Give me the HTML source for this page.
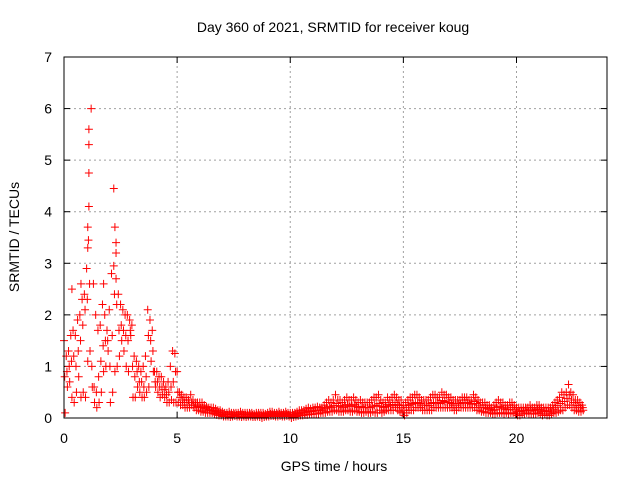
<!DOCTYPE html>
<html><head><meta charset="utf-8"><style>
body{margin:0;background:#fff}
svg{display:block;font-family:"Liberation Sans",sans-serif}
</style></head><body>
<svg id="chart" width="640" height="480">
<text x="333" y="32" font-size="14" text-anchor="middle">Day 360 of 2021, SRMTID for receiver koug</text>
<text x="334" y="471" font-size="14" text-anchor="middle">GPS time / hours</text>
<text transform="translate(19,237) rotate(-90)" font-size="14" text-anchor="middle">SRMTID / TECUs</text>
<g id="grid"></g><g id="axes"></g><g id="marks"></g>
<rect x="64" y="57" width="543" height="361" fill="none" stroke="#000" stroke-width="1"/>
</svg>
<script>
const xTicks=[0,5,10,15,20];
const yTicks=[0,1,2,3,4,5,6,7];
const tStart=0, tStep=0.1;
const hiVals=[1.5,1.2,1.3,1.6,1.7,1.6,1.9,2.0,2.3,2.4,
2.9,4.1,6.0,2.6,2.0,1.7,1.8,2.2,2.0,1.7,
2.1,2.8,2.95,2.7,2.4,2.2,2.1,2.0,2.0,1.9,
1.8,1.2,1.1,1.0,0.9,1.0,1.2,2.1,1.9,1.7,
0.9,0.9,0.8,0.8,0.7,0.6,0.7,1.0,1.3,1.25,
0.9,0.5,0.45,0.4,0.4,0.35,0.45,0.35,0.3,0.3,
.3,.3,.25,.22,.2,.2,.2,.18,.15,.15,
.12,.1,.1,.12,.1,.1,.1,.1,.12,.1,
.1,.1,.1,.1,.08,.1,.1,.1,.1,.08,
.1,.12,.12,.1,.1,.12,.1,.1,.12,.1,
.1,.1,.1,.12,.15,.15,.15,.18,.2,.18,
.2,.2,.22,.2,.2,.25,.3,.35,.3,.35,
.45,.35,.35,.3,.35,.4,.35,.35,.4,.35,
.3,.35,.3,.3,.3,.3,.35,.4,.4,.45,
.35,.3,.3,.4,.35,.4,.45,.4,.35,.35,
.25,.3,.35,.4,.4,.45,.45,.4,.35,.35,
.35,.35,.4,.45,.45,.4,.4,.5,.45,.45,
.4,.4,.35,.35,.35,.35,.4,.4,.4,.35,
.35,.45,.4,.35,.3,.3,.3,.25,.25,.2,
.25,.3,.35,.3,.3,.25,.25,.3,.3,.25,
.2,.2,.2,.2,.2,.2,.25,.2,.2,.25,
.25,.2,.2,.2,.2,.2,.25,.3,.35,.4,
.5,.45,.5,.65,.5,.45,.35,.35,.3,.25];
const loVals=[0.1,0.6,0.7,0.4,0.3,0.5,0.8,0.4,0.5,0.4,
1.1,1.3,0.6,0.3,0.2,0.3,0.5,0.9,1.0,1.3,
0.3,0.5,0.9,1.0,1.2,1.5,1.3,1.0,0.9,1.6,
0.4,0.4,0.6,0.5,0.4,0.4,0.5,0.6,1.1,0.9,
0.6,0.5,0.4,0.45,0.4,0.3,0.3,0.35,0.3,0.3,
0.3,0.25,0.25,0.2,0.2,0.2,0.25,0.2,0.15,0.15,
.12,.12,.1,.1,.1,.1,.08,.06,.05,.05,
.03,.03,.03,.02,.03,.04,.03,.03,.02,.03,
.02,.03,.03,.02,.02,.03,.02,.0,.02,.03,
.03,.04,.04,.03,.03,.04,.03,.03,.04,.03,
.0,.02,.03,.04,.05,.05,.06,.06,.07,.07,
.08,.08,.08,.1,.1,.1,.12,.12,.12,.15,
.15,.12,.12,.12,.15,.15,.12,.12,.15,.12,
.12,.1,.1,.12,.1,.1,.12,.1,.1,.15,
.1,.12,.15,.15,.15,.15,.2,.15,.12,.1,
.05,.1,.15,.15,.15,.2,.2,.2,.15,.15,
.15,.15,.15,.2,.2,.2,.2,.2,.2,.2,
.2,.2,.15,.15,.2,.2,.2,.2,.2,.2,
.2,.2,.15,.15,.12,.12,.1,.1,.1,.08,
.08,.1,.1,.1,.08,.1,.08,.1,.1,.08,
.05,.05,.08,.08,.1,.08,.08,.08,.08,.1,
.08,.05,.08,.05,.05,.08,.1,.1,.12,.15,
.15,.2,.25,.25,.2,.15,.15,.12,.12,.15];
const midVals=[.8,.9,1.0,1.1,1.2,1.0,1.3,1.5,1.8,2.1,
2.3,2.6,1.0,0.6,0.5,0.8,1.1,1.4,1.5,1.5,
1.0,1.6,2.4,2.2,1.7,1.8,1.7,1.6,1.5,1.7,
1.0,0.8,0.9,0.7,0.7,0.6,0.8,1.6,1.5,1.3,
0.7,0.7,0.6,0.6,0.55,0.45,0.5,0.6,0.7,0.9,
.5,.4,.35,.3,.3,.3,.3,.25,.25,.22,
.2,.2,.18,.15,.15,.14,.13,.12,.1,.1,
.07,.06,.06,.07,.06,.07,.06,.06,.07,.06,
.06,.06,.07,.06,.05,.06,.06,.05,.06,.05,
.06,.08,.07,.06,.07,.08,.06,.07,.08,.06,
.05,.06,.07,.08,.1,.1,.1,.12,.13,.12,
.14,.14,.15,.15,.15,.18,.2,.22,.2,.24,
.28,.24,.22,.2,.24,.26,.22,.24,.26,.22,
.2,.22,.2,.2,.2,.2,.22,.25,.24,.28,
.22,.2,.22,.26,.24,.26,.3,.26,.24,.2,
.15,.2,.24,.26,.28,.3,.3,.28,.25,.25,
.25,.24,.28,.3,.3,.3,.28,.34,.32,.3,
.3,.28,.25,.25,.28,.28,.3,.3,.3,.28,
.27,.32,.28,.25,.2,.2,.2,.18,.17,.14,
.16,.2,.22,.2,.18,.17,.16,.2,.2,.16,
.12,.12,.14,.14,.15,.14,.16,.14,.14,.17,
.16,.12,.14,.12,.12,.14,.17,.2,.24,.28,
.32,.32,.38,.45,.35,.3,.25,.24,.2,.2];
const spikeTimes=[1.1,1.1,1.1,1.05,1.05,1.08,2.2,2.25,2.3,2.3,0.35,0.75,1.75];
const spikeVals=[5.6,5.3,4.75,3.7,3.3,3.45,4.45,3.7,3.4,3.2,2.5,2.6,2.6];

const X0=64,X1=607,Y0=418,Y1=57,XMAX=24,YMAX=7;
const xs=v=>X0+(X1-X0)*v/XMAX, ys=v=>Y0-(Y0-Y1)*v/YMAX;
const NS="http://www.w3.org/2000/svg";
function mk(tag,attrs,parent){const e=document.createElementNS(NS,tag);for(const k in attrs)e.setAttribute(k,attrs[k]);parent.appendChild(e);return e;}
const grid=document.getElementById('grid'),axes=document.getElementById('axes'),marks=document.getElementById('marks');
xTicks.forEach(t=>{const x=xs(t);
 if(t>0){const g=mk('line',{x1:x,x2:x,y1:Y0,y2:Y1,stroke:'#a0a0a0','stroke-dasharray':'2,3'},grid);
 
 }
 mk('line',{x1:x,x2:x,y1:Y0,y2:Y0-6,stroke:'#000'},axes);mk('line',{x1:x,x2:x,y1:Y1,y2:Y1+6,stroke:'#000'},axes);
 const l=mk('text',{x:x,y:443,'font-size':14,'text-anchor':'middle'},axes);l.textContent=t;
 
 });
yTicks.forEach(t=>{const y=ys(t);
 if(t>0&&t<YMAX){const g=mk('line',{x1:X0,x2:X1,y1:y,y2:y,stroke:'#a0a0a0','stroke-dasharray':'2,3'},grid);
 
 }
 mk('line',{x1:X0,x2:X0+6,y1:y,y2:y,stroke:'#000'},axes);mk('line',{x1:X1,x2:X1-6,y1:y,y2:y,stroke:'#000'},axes);
 const l=mk('text',{x:52,y:y+5,'font-size':14,'text-anchor':'end'},axes);l.textContent=t;
 
 });
function cross(t,v){const x=xs(t),y=ys(v);
 const p=mk('path',{d:`M${x-4},${y}h8M${x},${y-4}v8`,stroke:'#ff0000','stroke-width':1,fill:'none'},marks);
 
 }
hiVals.forEach((v,i)=>cross(tStart+i*tStep,v));
loVals.forEach((v,i)=>cross(tStart+i*tStep+0.05,v));
midVals.forEach((v,i)=>cross(tStart+i*tStep+0.03,v));
spikeTimes.forEach((t,i)=>cross(t,spikeVals[i]));
</script>
</body></html>
